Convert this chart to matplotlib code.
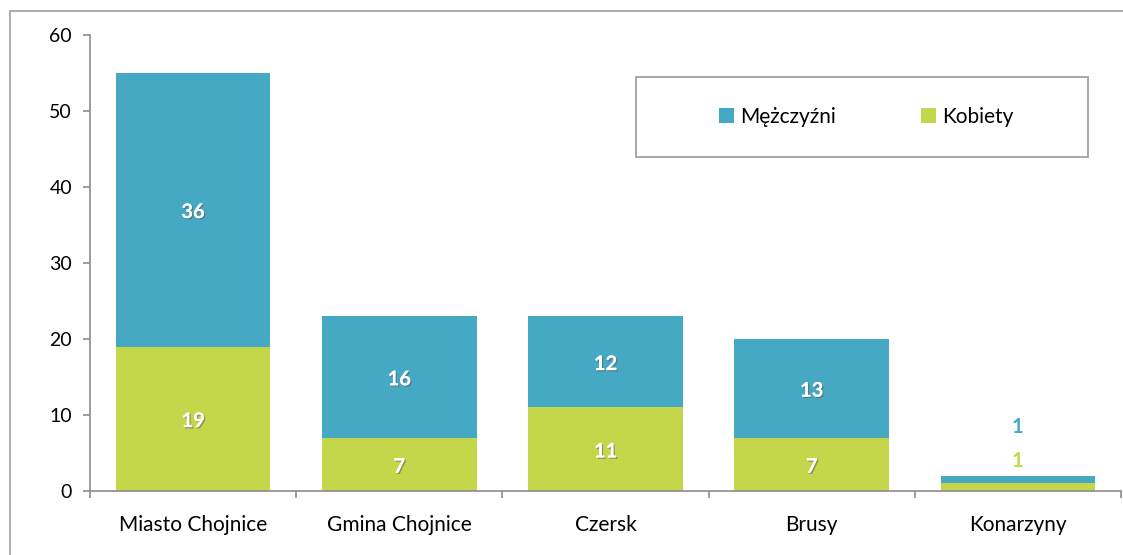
import matplotlib.pyplot as plt
import matplotlib.patheffects as pe
from matplotlib.patches import Rectangle
import numpy as np

plt.rcParams['font.family'] = ['Lato', 'DejaVu Sans']

categories = ['Miasto Chojnice', 'Gmina Chojnice', 'Czersk', 'Brusy', 'Konarzyny']
kobiety = [19, 7, 11, 7, 1]
mezczyzni = [36, 16, 12, 13, 1]

blue = '#46A9C4'
green = '#C4D74A'
grey = '#8C8C8C'

W, H = 1123, 555
fig = plt.figure(figsize=(W / 100, H / 100), dpi=100)
ax = fig.add_axes([90 / W, (H - 491) / H, (1121 - 90) / W, (491 - 35) / H])

x = np.arange(len(categories))
b1 = ax.bar(x, kobiety, width=0.75, color=green, label='Kobiety')
b2 = ax.bar(x, mezczyzni, width=0.75, bottom=kobiety, color=blue, label='Mężczyźni')

shadow = [pe.withSimplePatchShadow(offset=(1, -1), shadow_rgbFace='#555555', alpha=0.5), pe.Normal()]
for i in range(len(categories)):
    k, m = kobiety[i], mezczyzni[i]
    if k + m > 5:
        ax.text(i, k / 2 - 0.3, str(k), ha='center', va='center', color='white',
                fontsize=14.5, fontweight='bold', path_effects=shadow)
        ax.text(i, k + m / 2 - 0.3, str(m), ha='center', va='center', color='white',
                fontsize=14.5, fontweight='bold', path_effects=shadow)
    else:
        # small bar: labels sit above it in the series colours
        ax.text(i, k + m + 1.9, str(k), ha='center', va='center', color=green,
                fontsize=14.5, fontweight='bold')
        ax.text(i, k + m + 6.4, str(m), ha='center', va='center', color=blue,
                fontsize=14.5, fontweight='bold')

ax.set_xlim(-0.5, len(categories) - 0.5)
ax.set_ylim(0, 60)
ax.set_yticks(range(0, 61, 10))
ax.set_xticks(x)
ax.set_xticklabels(categories, fontsize=15)
ax.set_xticks(np.arange(-0.5, len(categories), 1), minor=True)
ax.tick_params(axis='x', which='major', length=0, pad=17, colors='black')
ax.tick_params(axis='x', which='minor', length=5, color=grey, width=1.2)
ax.tick_params(axis='y', length=5, color=grey, width=1.2, pad=8, labelsize=14)

for s in ['top', 'right']:
    ax.spines[s].set_visible(False)
for s in ['left', 'bottom']:
    ax.spines[s].set_color(grey)
    ax.spines[s].set_linewidth(1.2)

# legend box drawn separately, legend entries centred inside it
bx0, bx1 = (636 - 90) / 1031, (1088 - 90) / 1031
by0, by1 = (491 - 157) / 456, (491 - 77) / 456
ax.add_patch(Rectangle((bx0, by0), bx1 - bx0, by1 - by0, transform=ax.transAxes,
                       fill=False, edgecolor='#A0A0A0', linewidth=1.3, clip_on=False))
leg = ax.legend([b2, b1], ['Mężczyźni', 'Kobiety'], loc='center', ncol=2,
                bbox_to_anchor=((bx0 + bx1) / 2 + 0.004, (by0 + by1) / 2),
                fontsize=15, frameon=False, handlelength=0.7,
                handleheight=0.7, handletextpad=0.3, columnspacing=4.1)

border = Rectangle((10 / W, -0.1), 1.2, (H - 11) / H + 0.1, transform=fig.transFigure,
                   fill=False, edgecolor='#A6A6A6', linewidth=1.3, clip_on=False)
fig.patches.append(border)

fig.savefig('out.png', dpi=100)
